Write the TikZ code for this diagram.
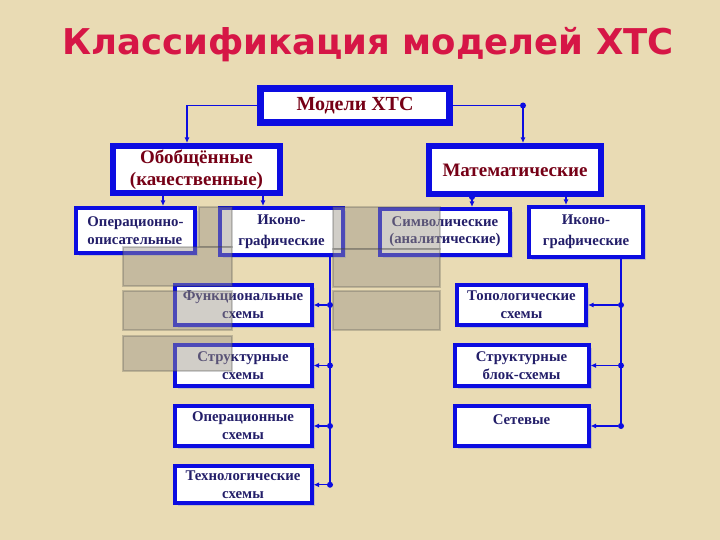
\documentclass[tikz,border=0pt]{standalone}
\usepackage{fontspec}
\setmainfont{Liberation Serif}
\newfontfamily\titlefont{DejaVu Sans}
\usepackage{tikz}
\usetikzlibrary{positioning,shadows,arrows.meta}

\definecolor{parchment}{RGB}{233,219,180}
\definecolor{boxblue}{RGB}{12,12,225}
\definecolor{capred}{RGB}{118,0,22}
\definecolor{navytext}{RGB}{35,30,105}
\definecolor{titlered}{RGB}{214,22,70}
\definecolor{tilegray}{RGB}{155,148,135}

\begin{document}
\begin{tikzpicture}[
    x=1pt, y=-1pt,
    box/.style={draw=boxblue, fill=white, align=center, inner sep=1pt,
                general shadow={fill=blue!15!gray!60, opacity=.55,
                                shadow xshift=3pt, shadow yshift=-3pt}},
    head/.style={box, line width=6pt, text=capred,
                 font=\fontsize{19}{21.5}\selectfont\bfseries},
    sub/.style={box, line width=4pt, text=navytext, minimum height=40.5pt,
                font=\fontsize{14.8}{18}\selectfont\bfseries},
    link/.style={boxblue, line width=1.3pt, -{Latex[length=5.5pt,width=5pt]}},
    bus/.style={boxblue, line width=1.3pt},
    joint/.style={circle, fill=boxblue, inner sep=0pt, minimum size=6pt},
    tile/.style={fill=tilegray, fill opacity=.45, draw=gray!50!black,
                 draw opacity=.25, line width=1.5pt},
    node distance=16pt
]
    \fill[parchment] (0,0) rectangle (720,540);

    \node[font=\titlefont\bfseries\fontsize{35.5}{40}\selectfont, text=titlered]
        (title) at (368,45) {Классификация моделей ХТС};

    \node[head, line width=7pt, font=\fontsize{20}{22}\selectfont\bfseries,
          minimum width=189pt, minimum height=34pt] (model) at (355,105.5)
        {Модели ХТС};
    \node[head, minimum width=167pt, minimum height=47pt] (gen) at (196.5,169.5)
        {Обобщённые\\(качественные)};
    \node[head, minimum width=172pt, minimum height=48pt] (math) at (515,170)
        {Математические};

    \node[sub, align=left, minimum width=119pt, minimum height=45pt] (opdesc)
        at (135.5,230.5) {Операционно-\\описательные};
    \node[sub, font=\fontsize{14.8}{21}\selectfont\bfseries,
          minimum width=123pt, minimum height=47pt] (iconL) at (281.5,231.5)
        {Иконо-\\графические};
    \node[sub, font=\fontsize{14.8}{17}\selectfont\bfseries,
          minimum width=130pt, minimum height=46pt] (symb) at (445,232)
        {Символические\\(аналитические)};
    \node[sub, font=\fontsize{14.8}{21}\selectfont\bfseries,
          minimum width=114pt, minimum height=50pt] (iconR) at (586,232)
        {Иконо-\\графические};

    \node[sub, minimum width=137pt] (func) at (243,305) {Функциональные\\схемы};
    \node[sub, minimum width=137pt, below=of func] (strL) {Структурные\\схемы};
    \node[sub, minimum width=137pt, below=of strL] (oper) {Операционные\\схемы};
    \node[sub, minimum width=137pt, minimum height=37pt, below=of oper] (tech)
        {Технологические\\схемы};

    \node[sub, minimum width=129pt] (topo) at (521.5,305) {Топологические\\схемы};
    \node[sub, minimum width=134pt, below=of topo] (strR) {Структурные\\блок-схемы};
    \node[sub, minimum width=134pt, below=of strR] (net) {Сетевые\\[-5pt]\mbox{}};

    \coordinate (gtop) at ([xshift=-9.5pt]gen.north);
    \coordinate (mtop) at ([xshift=8pt]math.north);
    \draw[link] (model.west) -| (gtop);
    \draw[link] (model.east) -| (mtop);
    \node[joint] (mjoin) at (mtop |- model.east) {};

    \coordinate (g1) at ([xshift=-33.5pt]gen.south);
    \coordinate (g2) at ([xshift=66.5pt]gen.south);
    \coordinate (m1) at ([xshift=-43pt]math.south);
    \coordinate (m2) at ([xshift=51pt]math.south);
    \draw[link] (g1) -- (g1 |- opdesc.north);
    \draw[link] (g2) -- (g2 |- iconL.north);
    \draw[link] (m1) -- (m1 |- symb.north);
    \node[joint] (m1dot) at (m1) {};
    \draw[link] (m2) -- (m2 |- iconR.north);

    \coordinate (lbus) at ([xshift=48.5pt]iconL.south);
    \draw[bus] (lbus) -- (lbus |- tech.east);
    \foreach \n in {func,strL,oper,tech} {
        \node[joint] (j\n) at (lbus |- \n.east) {};
        \draw[link] (j\n) -- (\n.east);
    }

    \coordinate (rbus) at ([xshift=35pt]iconR.south);
    \draw[bus] (rbus) -- (rbus |- net.east);
    \foreach \n in {topo,strR,net} {
        \node[joint] (j\n) at (rbus |- \n.east) {};
        \draw[link] (j\n) -- (\n.east);
    }

    \draw[tile] (199,207) rectangle (232,247);
    \draw[tile] (123,247) rectangle (232,286);
    \draw[tile] (123,291) rectangle (232,330);
    \draw[tile] (123,336) rectangle (232,371);
    \draw[tile] (333,207) rectangle (440,249);
    \draw[tile] (333,249) rectangle (440,287);
    \draw[tile] (333,291) rectangle (440,330);
\end{tikzpicture}
\end{document}
